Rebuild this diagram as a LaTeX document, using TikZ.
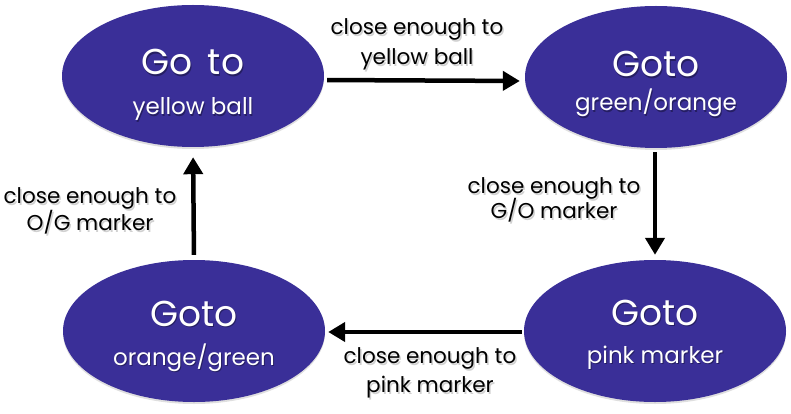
\documentclass[tikz,border=0pt]{standalone}
\usepackage{fontspec}
\setmainfont{Poppins}
\usetikzlibrary{shapes.geometric,arrows.meta,shadows}
\definecolor{stateblue}{RGB}{58,47,152}
\tikzset{
  state/.style={ellipse,fill=stateblue,minimum width=262pt,minimum height=142pt,inner sep=0pt,
    drop shadow={opacity=0.25,shadow xshift=0pt,shadow yshift=-2pt}},
  bigtxt/.style={text=white,font=\fontsize{36}{40}\selectfont,anchor=base,inner sep=0pt},
  smalltxt/.style={text=white,font=\fontsize{23}{28}\selectfont,anchor=base,inner sep=0pt},
  lbl/.style={text=black,font=\fontsize{21.5}{24}\selectfont,anchor=base,inner sep=0pt},
  wshadow/.style={text=black,text opacity=0.35},
  lshadow/.style={text=black,text opacity=0.18},
  arr/.style={line width=4.5pt,-{Triangle[length=17pt,width=19pt]}},
}
\newcommand\wtxt[4]{% name, style, position, text
  \node[#2,wshadow] (#1s) at ([shift={(1pt,-1.5pt)}]#3) {#4};
  \node[#2] (#1) at (#3) {#4};}
\newcommand\ltxt[3]{% name, position, text
  \node[lbl,lshadow] (#1s) at ([shift={(1.5pt,-2pt)}]#2) {#3};
  \node[lbl] (#1) at (#2) {#3};}
\begin{document}
\begin{tikzpicture}[x=1pt,y=-1pt]
\useasboundingbox (0,0) rectangle (791,414);
\node[state] (tl) at (193,76) {};
\node[state] (tr) at (656,77) {};
\node[state] (bl) at (194,331) {};
\node[state] (br) at (655,331) {};
% state texts
\wtxt{tla}{bigtxt}{193,75}{Go\hspace{15pt}to}
\wtxt{tlb}{smalltxt}{193,115}{yellow ball}
\wtxt{tra}{bigtxt}{656,77}{Goto}
\wtxt{trb}{smalltxt}{656,111}{green/orange}
\wtxt{bra}{bigtxt}{655,325}{Goto}
\wtxt{brb}{smalltxt}{655,363}{pink marker}
\wtxt{bla}{bigtxt}{194,326}{Goto}
\wtxt{blb}{smalltxt}{194,365}{orange/green}
% arrows
\draw[arr,shorten <=3pt,shorten >=5pt] ([yshift=-4pt]tl.east) -- ([yshift=-4pt]tr.west);
\draw[arr,shorten <=4pt,shorten >=5pt] ([xshift=-1pt]tr.south) -- (br.north);
\draw[arr,shorten <=2pt,shorten >=3pt] ([yshift=-1pt]br.west) -- ([yshift=-1pt]bl.east);
\draw[arr,shorten <=5pt,shorten >=10pt] (bl.north) -- (tl.south);
% labels
\ltxt{l1a}{417,35}{close enough to}
\ltxt{l1b}{417,65}{yellow ball}
\ltxt{l2a}{554,193}{close enough to}
\ltxt{l2b}{554,218}{G/O marker}
\ltxt{l3a}{430,363}{close enough to}
\ltxt{l3b}{430,392}{pink marker}
\ltxt{l4a}{90,203}{close enough to}
\ltxt{l4b}{90,230}{O/G marker}
\end{tikzpicture}
\end{document}
